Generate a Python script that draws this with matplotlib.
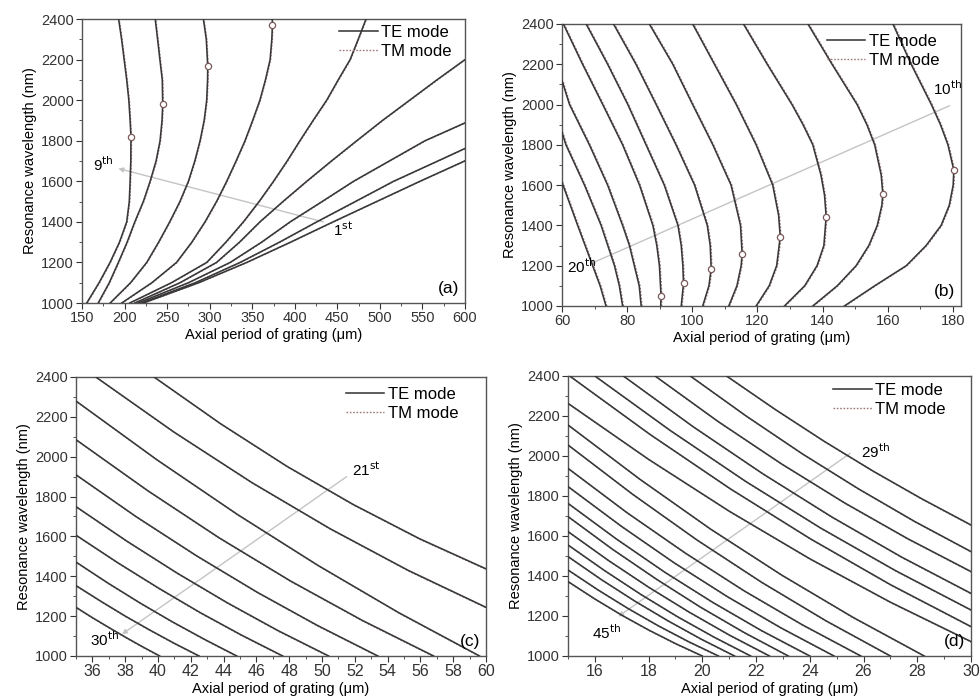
import matplotlib
matplotlib.use("Agg")
import matplotlib.pyplot as plt
import matplotlib.transforms as mtransforms
from matplotlib.ticker import MultipleLocator

plt.rcParams['font.family'] = ['Liberation Sans', 'DejaVu Sans']
plt.rcParams['font.size'] = 10

# ---------------- data ----------------
# (a) orders 1st..9th : axial period (um) / resonance wavelength (nm)
a_x = [
    [222, 287, 343.5, 395, 445, 496, 547, 600],
    [220, 283, 335.7, 382, 425.8, 471, 516, 568, 600],
    [216, 275, 324, 361, 394.5, 432, 469, 511, 553, 600],
    [212, 265, 308, 335, 359, 386, 414, 443, 472.8, 503, 535, 567, 600],
    [206, 255, 296.5, 319, 339.6, 358, 375, 391, 406, 421.5, 437.5, 451, 465, 474.5, 483.7],
    [196.6, 232, 261, 279, 294.5, 308, 320, 331, 341.5, 350.5, 359, 365.5, 371, 373, 373.7, 373.5],
    [183, 207, 226, 240, 253, 265, 275, 282.5, 288.7, 293.5, 296.5, 297.5, 297.7, 296, 292.6],
    [169, 182, 192.7, 203, 212, 222, 230, 237, 241.7, 244, 244.8, 244.3, 241.5, 238.8, 236],
    [155.5, 170, 182.9, 194, 202.5, 205.5, 206.5, 207.3, 207.5, 206.5, 205, 202.5, 199.5, 196.5, 193],
]
a_y = [
    [1000, 1100, 1200, 1300, 1400, 1500, 1600, 1701],
    [1000, 1100, 1200, 1300, 1400, 1500, 1600, 1700, 1762],
    [1000, 1100, 1200, 1300, 1400, 1500, 1600, 1700, 1800, 1888],
    [1000, 1100, 1200, 1300, 1400, 1500, 1600, 1700, 1800, 1900, 2000, 2100, 2200],
    [1000, 1100, 1200, 1300, 1400, 1500, 1600, 1700, 1800, 1900, 2000, 2100, 2200, 2300, 2400],
    [1000, 1100, 1200, 1300, 1400, 1500, 1600, 1700, 1800, 1900, 2000, 2100, 2200, 2300, 2370, 2400],
    [1000, 1100, 1200, 1300, 1400, 1500, 1600, 1700, 1800, 1900, 2000, 2100, 2168, 2300, 2400],
    [1000, 1100, 1200, 1300, 1400, 1500, 1600, 1700, 1800, 1900, 1980, 2100, 2200, 2300, 2400],
    [1000, 1100, 1200, 1300, 1400, 1500, 1600, 1700, 1820, 1900, 2000, 2100, 2200, 2300, 2400],
]
# turning points (open circles) in (a)
a_turn_x = [373.7, 297.7, 244.8, 207.5]
a_turn_y = [2370, 2168, 1980, 1820]

# (b) orders 10th..20th
b_x = [
    [146.7, 156, 165.7, 171.8, 176.4, 178.9, 180.1, 180.3, 178.5, 176.2, 173.4, 167.2, 161.6],
    [137, 144.5, 150.3, 154.2, 156.8, 158.2, 158.5, 158.0, 156.0, 153.6, 150.6, 142.9, 135.5],
    [128.3, 134.5, 138.3, 140.4, 141.1, 140.6, 139.5, 137, 134, 130.6, 123, 115.7],
    [119.6, 123.6, 125.9, 127, 126.5, 124.7, 119.6, 113.5, 106.8, 100.1],
    [111.2, 113.7, 115, 115.3, 114.8, 111.9, 106.3, 100.1, 94, 86.8],
    [103.2, 105.1, 105.8, 105.5, 104.6, 100.7, 95, 88.9, 82.7, 75.8],
    [96.6, 97.3, 97.1, 96.6, 95.6, 91.4, 85.8, 80.2, 74, 67.4],
    [90.3, 90.4, 89.9, 89.1, 87.9, 83.8, 78.6, 72.5, 66.3, 60.4],
    [84.3, 83.7, 82.2, 80.7, 78.6, 74, 68.4, 62.3, 60],
    [78.6, 77.6, 76.1, 72, 66.9, 61.2, 60],
    [73.5, 71.7, 69.4, 64.8, 60],
]
b_y = [
    [1000, 1100, 1200, 1300, 1400, 1500, 1600, 1674, 1800, 1900, 2000, 2200, 2400],
    [1000, 1100, 1200, 1300, 1400, 1500, 1555, 1650, 1800, 1900, 2000, 2200, 2400],
    [1000, 1100, 1200, 1300, 1444, 1550, 1650, 1800, 1900, 2000, 2200, 2400],
    [1000, 1100, 1200, 1344, 1450, 1600, 1800, 2000, 2200, 2400],
    [1000, 1100, 1200, 1258, 1400, 1600, 1800, 2000, 2200, 2400],
    [1000, 1100, 1185, 1300, 1400, 1600, 1800, 2000, 2200, 2400],
    [1000, 1112, 1200, 1300, 1400, 1600, 1800, 2000, 2200, 2400],
    [1000, 1050, 1200, 1300, 1400, 1600, 1800, 2000, 2200, 2400],
    [1000, 1100, 1200, 1300, 1400, 1600, 1800, 2000, 2118],
    [1000, 1100, 1200, 1400, 1600, 1800, 1861],
    [1000, 1100, 1200, 1400, 1613],
]
b_turn_x = [180.3, 158.5, 141.1, 127, 115.3, 105.8, 97.3, 90.4]
b_turn_y = [1674, 1555, 1444, 1344, 1258, 1185, 1112, 1050]

# (c) orders 21st..30th
c_x = [
    [39.75, 43.8, 47.85, 51.9, 55.95, 60],
    [36.2, 40.96, 45.72, 50.48, 55.24, 60],
    [35, 39.92, 44.84, 49.76, 54.68, 59.6],
    [35, 39.36, 43.72, 48.08, 52.44, 56.8],
    [35, 38.68, 42.36, 46.04, 49.72, 53.4],
    [35, 38.08, 41.16, 44.24, 47.32, 50.4],
    [35, 37.52, 40.04, 42.56, 45.08, 47.6],
    [35, 36.96, 38.92, 40.88, 42.84, 44.8],
    [35, 36.5, 38, 39.5, 41, 42.5],
    [35, 36.02, 37.04, 38.06, 39.08, 40.1],
]
c_y = [
    [2400, 2166, 1952, 1760, 1588, 1437],
    [2400, 2124, 1870, 1639, 1430, 1244],
    [2279, 1985, 1710, 1454, 1217, 1000],
    [2085, 1830, 1593, 1376, 1179, 1000],
    [1909, 1698, 1502, 1320, 1153, 1000],
    [1749, 1577, 1416, 1266, 1127, 1000],
    [1606, 1469, 1340, 1218, 1105, 1000],
    [1471, 1365, 1265, 1171, 1083, 1000],
    [1353, 1275, 1200, 1130, 1063, 1000],
    [1244, 1191, 1141, 1092, 1045, 1000],
]

# (d) orders 29th..45th (as many curves as are visible)
d_x = [
    [20.9, 22.72, 24.54, 26.36, 28.18, 30],
    [19.55, 21.64, 23.73, 25.82, 27.91, 30],
    [18.24, 20.59, 22.94, 25.3, 27.65, 30],
    [17.06, 19.65, 22.24, 24.82, 27.41, 30],
    [16.0, 18.8, 21.6, 24.4, 27.2, 30],
    [15.06, 18.05, 21.04, 24.02, 27.01, 30],
    [15, 18, 21, 24, 27, 30],
    [15, 17.65, 20.3, 22.96, 25.61, 28.26],
    [15, 17.4, 19.8, 22.2, 24.6, 27.0],
    [15, 17.18, 19.36, 21.54, 23.72, 25.9],
    [15, 16.98, 18.96, 20.94, 22.92, 24.9],
    [15, 16.8, 18.6, 20.4, 22.2, 24.0],
    [15, 16.64, 18.28, 19.92, 21.56, 23.2],
    [15, 16.5, 18, 19.5, 21, 22.5],
    [15, 16.36, 17.72, 19.08, 20.44, 21.8],
    [15, 16.24, 17.48, 18.72, 19.96, 21.2],
    [15, 16.12, 17.24, 18.36, 19.48, 20.6],
    [15, 16, 17, 18, 19, 20],
]
d_y = [
    [2400, 2232, 2073, 1924, 1785, 1655],
    [2400, 2199, 2010, 1835, 1672, 1522],
    [2400, 2172, 1961, 1765, 1586, 1422],
    [2400, 2147, 1912, 1695, 1495, 1313],
    [2400, 2128, 1874, 1640, 1426, 1230],
    [2400, 2108, 1836, 1586, 1356, 1147],
    [2263, 1983, 1724, 1486, 1269, 1072],
    [2155, 1886, 1635, 1404, 1193, 1000],
    [2055, 1809, 1580, 1369, 1176, 1000],
    [1938, 1718, 1515, 1327, 1156, 1000],
    [1847, 1649, 1465, 1296, 1141, 1000],
    [1763, 1585, 1419, 1267, 1127, 1000],
    [1697, 1535, 1385, 1245, 1117, 1000],
    [1622, 1478, 1344, 1220, 1105, 1000],
    [1555, 1427, 1307, 1196, 1094, 1000],
    [1497, 1382, 1275, 1176, 1084, 1000],
    [1430, 1330, 1237, 1151, 1072, 1000],
    [1372, 1285, 1204, 1130, 1062, 1000],
]

# order guide lines: start (x, y) -> arrow end (x, y)
a_guide = [433.6, 1400, 192.7, 1663]
b_guide = [179, 1994, 68.4, 1207]
c_guide = [51.5, 1900, 37.8, 1109]
d_guide = [25.5, 2013, 16.87, 1197]

# ---------------- figure ----------------
fig = plt.figure(figsize=(9.8, 7), dpi=100)

ax_a = fig.add_axes([0.0837, 0.5671, 0.3908, 0.4057])
ax_b = fig.add_axes([0.5735, 0.5629, 0.4071, 0.4029])
ax_c = fig.add_axes([0.0776, 0.0629, 0.4184, 0.3986])
ax_d = fig.add_axes([0.5796, 0.0629, 0.4112, 0.4000])

TE_COLOR = '#383838'
TM_COLOR = '#a07a7a'
GUIDE_COLOR = '#c4c4c4'


def draw_panel(ax, xs, ys, tm_dx, tm_dy):
    # TM curves sit just beside the TE ones; drawn with a small visual offset
    tm_trans = mtransforms.offset_copy(ax.transData, fig=fig, x=tm_dx, y=tm_dy, units='points')
    for i in range(len(xs)):
        ax.plot(xs[i], ys[i], color=TM_COLOR, lw=1.0, ls=(0, (1.2, 1.2)), transform=tm_trans,
                label='TM mode' if i == 0 else None, zorder=2)
        ax.plot(xs[i], ys[i], color=TE_COLOR, lw=1.15,
                label='TE mode' if i == 0 else None, zorder=3)


def style_axes(ax, xlim, xmajor, xminor, tag, leg_anchor, xtick_size=10.5):
    ax.set_xlim(*xlim)
    ax.set_ylim(1000, 2400)
    ax.xaxis.set_major_locator(MultipleLocator(xmajor))
    ax.xaxis.set_minor_locator(MultipleLocator(xminor))
    ax.yaxis.set_major_locator(MultipleLocator(200))
    ax.yaxis.set_minor_locator(MultipleLocator(100))
    ax.tick_params(which='both', direction='out', top=False, right=False, colors='#333333',
                   labelsize=10.5, pad=2)
    ax.tick_params(axis='x', labelsize=xtick_size)
    ax.tick_params(which='major', length=4)
    ax.tick_params(which='minor', length=2)
    for s in ax.spines.values():
        s.set_color('#555555')
        s.set_linewidth(1.0)
    ax.set_xlabel('Axial period of grating (\u03bcm)', fontsize=10.5, labelpad=2)
    ax.set_ylabel('Resonance wavelength (nm)', fontsize=10.5, labelpad=3)
    handles, labels = ax.get_legend_handles_labels()
    order = [labels.index('TE mode'), labels.index('TM mode')]
    ax.legend([handles[k] for k in order], [labels[k] for k in order], loc='upper right',
              bbox_to_anchor=leg_anchor, frameon=False, fontsize=12, handlelength=2.3,
              handletextpad=0.2, borderaxespad=0.0, borderpad=0.0, labelspacing=0.25)
    ax.text(0.985, 0.025, tag, transform=ax.transAxes, ha='right', va='bottom', fontsize=12.5)


def guide(ax, g):
    ax.annotate('', xy=(g[2], g[3]), xytext=(g[0], g[1]),
                arrowprops=dict(arrowstyle='-|>', color=GUIDE_COLOR, lw=1.0,
                                mutation_scale=7, shrinkA=0, shrinkB=0), zorder=1)


# (a)
draw_panel(ax_a, a_x, a_y, 0.4, 0.0)
ax_a.plot(a_turn_x, a_turn_y, 'o', ms=4.5, mfc='white', mec='#7a5a5a', mew=0.9, ls='none', zorder=4)
guide(ax_a, a_guide)
ax_a.text(187, 1680, r'9$^{\rm th}$', ha='right', va='center', fontsize=11)
ax_a.text(445, 1360, r'1$^{\rm st}$', ha='left', va='center', fontsize=11)
style_axes(ax_a, (150, 600), 50, 25, '(a)', (0.965, 0.98))

# (b)
draw_panel(ax_b, b_x, b_y, 0.6, 0.0)
ax_b.plot(b_turn_x, b_turn_y, 'o', ms=4.5, mfc='white', mec='#7a5a5a', mew=0.9, ls='none', zorder=4)
guide(ax_b, b_guide)
ax_b.text(173.8, 2077, r'10$^{\rm th}$', ha='left', va='center', fontsize=11)
ax_b.text(61.6, 1195, r'20$^{\rm th}$', ha='left', va='center', fontsize=11)
style_axes(ax_b, (60, 182.5), 20, 10, '(b)', (0.945, 0.965))

# (c)
draw_panel(ax_c, c_x, c_y, 1.0, -0.8)
guide(ax_c, c_guide)
ax_c.text(51.8, 1936, r'21$^{\rm st}$', ha='left', va='center', fontsize=11)
ax_c.text(37.6, 1080, r'30$^{\rm th}$', ha='right', va='center', fontsize=11)
style_axes(ax_c, (35, 60), 2, 1, '(c)', (0.932, 0.965), xtick_size=11.5)

# (d)
draw_panel(ax_d, d_x, d_y, 0.9, -0.7)
guide(ax_d, d_guide)
ax_d.text(25.9, 2022, r'29$^{\rm th}$', ha='left', va='center', fontsize=11)
ax_d.text(16.45, 1115, r'45$^{\rm th}$', ha='center', va='center', fontsize=11)
style_axes(ax_d, (15, 30), 2, 1, '(d)', (0.937, 0.975), xtick_size=11.5)

fig.savefig('out.png', dpi=100)
